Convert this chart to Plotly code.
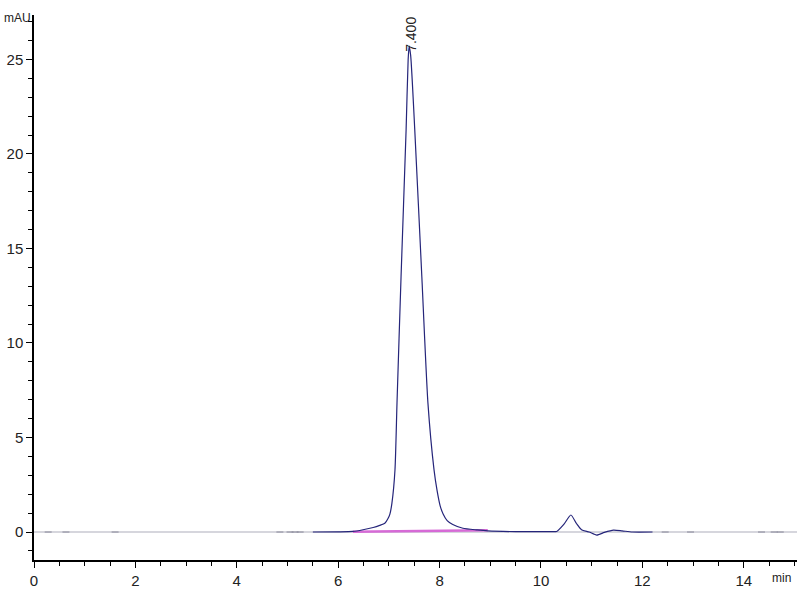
import plotly.graph_objects as go

# Chromatogram signal (min, mAU)
time_min = [5.5, 6.0, 6.29, 6.49, 6.69, 6.82, 6.92, 6.98, 7.02, 7.06, 7.12, 7.16, 7.24,
            7.34, 7.38, 7.40, 7.43, 7.51, 7.65, 7.77, 7.89, 7.95, 8.01, 8.07, 8.15, 8.26,
            8.46, 8.74, 8.95, 9.5, 10.2, 10.31, 10.45, 10.59, 10.7, 10.8, 10.95, 11.1,
            11.25, 11.43, 11.6, 11.8, 12.2]
signal_mau = [0.0, 0.01, 0.03, 0.12, 0.24, 0.35, 0.46, 0.7, 0.95, 1.53, 3.28, 6.83, 13.5,
              21.3, 25.0, 25.7, 25.2, 21.3, 13.5, 6.83, 3.3, 2.2, 1.4, 0.95, 0.6, 0.4,
              0.2, 0.11, 0.06, 0.02, 0.02, 0.03, 0.4, 0.9, 0.45, 0.12, 0.0, -0.16,
              -0.02, 0.1, 0.06, 0.0, 0.0]

# Full-range zero line
zero_time = [0.0, 15.05]
zero_level = [0.0, 0.0]

# Integration baseline of main peak
base_time = [6.29, 8.95]
base_level = [0.02, 0.09]

# Small event marks on the baseline
event_time = [0.28, 0.63, 1.6, 4.85, 5.05, 5.15, 5.25, 12.45, 12.95, 14.35, 14.6, 14.72]
event_level = [0.0] * len(event_time)

peak_time = 7.40
peak_height = 25.7
peak_label = "7.400"

font_family = "Liberation Sans Narrow, Arial Narrow, Liberation Sans, Arial, sans-serif"

fig = go.Figure()
fig.add_trace(go.Scatter(x=zero_time, y=zero_level, mode="lines",
                         line=dict(color="#c9c9d2", width=1.5), hoverinfo="skip"))
fig.add_trace(go.Scatter(x=event_time, y=event_level, mode="markers",
                         marker=dict(symbol="line-ew", size=5, line=dict(color="#8a8a9a", width=1)),
                         hoverinfo="skip"))
fig.add_trace(go.Scatter(x=base_time, y=base_level, mode="lines",
                         line=dict(color="#d66ad6", width=2.5), hoverinfo="skip"))
fig.add_trace(go.Scatter(x=time_min, y=signal_mau, mode="lines",
                         line=dict(color="#25257a", width=1.2, shape="spline", smoothing=0.6)))

fig.add_annotation(x=peak_time, y=peak_height, text=peak_label, textangle=-90,
                   showarrow=False, xanchor="center", yanchor="bottom", yshift=-8, xshift=2,
                   font=dict(family=font_family, size=14, color="#222222"))
fig.add_annotation(xref="paper", yref="paper", x=-0.042, y=1.0, text="mAU",
                   showarrow=False, xanchor="left", yanchor="middle", yshift=-3,
                   font=dict(family=font_family, size=12, color="#222222"))
fig.add_annotation(xref="paper", yref="paper", x=0.98, y=0, text="min",
                   showarrow=False, xanchor="center", yanchor="top", yshift=-9,
                   font=dict(family=font_family, size=12, color="#222222"))

fig.update_layout(
    width=800, height=600,
    margin=dict(l=34, r=3, t=15, b=40, autoexpand=False),
    paper_bgcolor="white", plot_bgcolor="white",
    showlegend=False,
    font=dict(family=font_family, size=14, color="#222222"),
    xaxis=dict(range=[0, 15.05], dtick=2, tick0=0, showgrid=False, zeroline=False,
               automargin=False,
               showline=True, linecolor="black", linewidth=1.5,
               ticks="outside", ticklen=6, tickcolor="black",
               minor=dict(dtick=0.5, ticks="outside", ticklen=4, tickcolor="black"),
               tickfont=dict(size=15)),
    yaxis=dict(range=[-1.48, 27.35], dtick=5, tick0=0, showgrid=False, zeroline=False,
               automargin=False,
               showline=True, linecolor="black", linewidth=1.5,
               ticks="outside", ticklen=6, tickcolor="black",
               minor=dict(dtick=1, ticks="outside", ticklen=4, tickcolor="black"),
               tickfont=dict(size=15)),
)

fig.write_html("out.html", config={"displayModeBar": False},
               post_script="document.body.style.margin='0';document.body.style.overflow='hidden';")
